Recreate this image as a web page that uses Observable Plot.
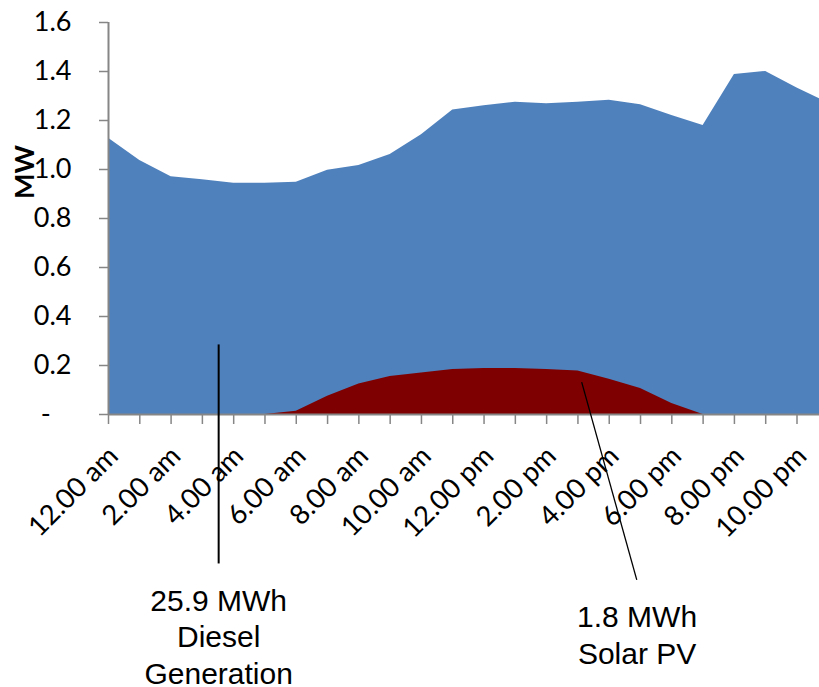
<!DOCTYPE html>
<html><head><meta charset="utf-8">
<script src="https://cdn.jsdelivr.net/npm/d3@7"></script>
<script src="https://cdn.jsdelivr.net/npm/@observablehq/plot@0.6"></script>
<style>body{margin:0;background:#fff;} #chart svg{overflow:hidden;display:block}</style>
</head><body><div id="chart"></div>
<script>
const hours = [0,1,2,3,4,5,6,7,8,9,10,11,12,13,14,15,16,17,18,19,20,21,22,23];
const load = [1.128,1.037,0.970,0.958,0.944,0.944,0.948,0.997,1.016,1.061,1.142,1.243,1.260,1.275,1.268,1.275,1.283,1.264,1.220,1.180,1.388,1.400,1.333,1.272];
const solar = [0,0,0,0,0,0,0.013,0.075,0.124,0.155,0.169,0.184,0.188,0.188,0.184,0.178,0.144,0.106,0.045,0,0,0,0,0];
const labelHours = [0,2,4,6,8,10,12,14,16,18,20,22];
const hourLabels = ["12.00 am","2.00 am","4.00 am","6.00 am","8.00 am","10.00 am","12.00 pm","2.00 pm","4.00 pm","6.00 pm","8.00 pm","10.00 pm"];
const yTicks = [0,0.2,0.4,0.6,0.8,1.0,1.2,1.4,1.6];
const notes = [
  {text:"25.9 MWh\nDiesel\nGeneration", x:3.52, y:-0.902, x1:3.52, y1:0.286, x2:3.52, y2:-0.608},
  {text:"1.8 MWh\nSolar PV", x:16.89, y:-0.895, x1:15.12, y1:0.132, x2:16.88, y2:-0.675}
];

const data = hours.map((h,i)=>({h, load:load[i], solar:solar[i]}));
const gray = "#868686";

const chart = Plot.plot({
  width: 819, height: 687,
  marginLeft: 108, marginRight: 0, marginTop: 22, marginBottom: 273,
  x: {domain:[0,23], range:[108, 827.8], label:null},
  y: {domain:[0,1.6], range:[414,22], label:null},
  style: {fontFamily:"Lato, sans-serif", fontSize:"27px", color:"#000", background:"#fff", overflow:"hidden"},
  marks: [
    Plot.areaY(data, {x:"h", y:"load", fill:"#4F81BD", curve:"linear"}),
    Plot.areaY(data, {x:"h", y:"solar", fill:"#7F0000", curve:"linear"}),
    Plot.ruleY([0], {stroke:gray, strokeWidth:2}),
    Plot.ruleX([0], {stroke:gray, strokeWidth:2}),
    Plot.axisY({ticks:yTicks, tickSize:9, text:null, stroke:gray, strokeWidth:1.5, label:null}),
    Plot.axisY({ticks:yTicks, tickSize:0, tickPadding:37, label:null, fontSize:27,
      tickFormat: d => d === 0 ? "-\u00A0\u00A0\u00A0" : d.toFixed(1)}),
    Plot.axisX({ticks:hours, tickSize:10, text:null, stroke:gray, strokeWidth:1.5, label:null}),
    Plot.axisX({ticks:labelHours, tickSize:0, tickPadding:37, tickRotate:-45, dx:5, label:null, fontSize:27.5,
      tickFormat: d => hourLabels[labelHours.indexOf(d)]}),
    Plot.text(["MW"], {frameAnchor:"left", dx:-83, y:[0.99], rotate:-90, textAnchor:"middle", fontWeight:"bold", fontSize:27, fill:"#000"}),
    Plot.link(notes, {x1:"x1", y1:"y1", x2:"x2", y2:"y2", stroke:"#000", strokeWidth:[2,1.3]}),
    Plot.text(notes, {x:"x", y:"y", text:"text", fontFamily:"Liberation Sans, Arial, sans-serif", fontSize:30, lineHeight:1.22, lineAnchor:"middle", fill:"#000"})
  ]
});
document.getElementById("chart").append(chart);
</script>
</body></html>
